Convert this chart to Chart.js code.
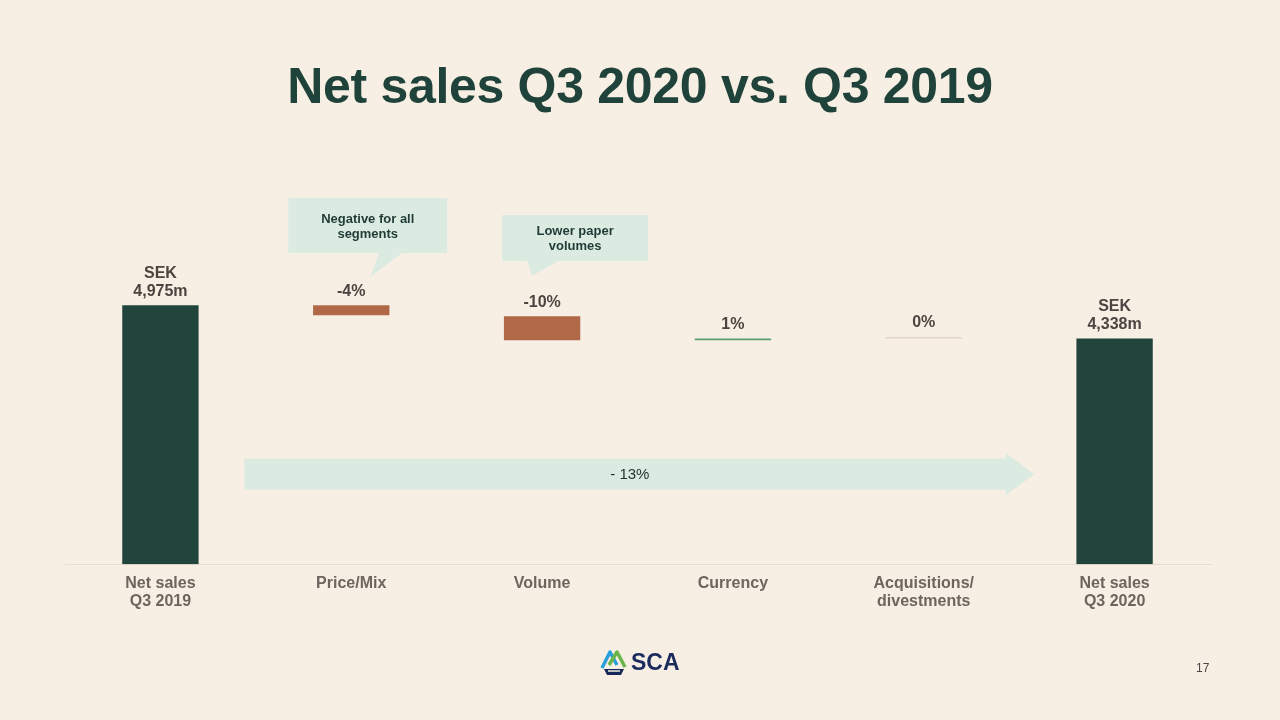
<!DOCTYPE html>
<html>
<head>
<meta charset="utf-8">
<script src="https://cdn.jsdelivr.net/npm/chart.js@4.4.1/dist/chart.umd.min.js"></script>
<style>
  html, body { margin: 0; padding: 0; }
  body { width: 1280px; height: 720px; background: #f7efe3; position: relative; overflow: hidden; font-family: 'Liberation Sans', Arial, sans-serif; }
  #title { position: absolute; top: 61px; left: 0; width: 1280px; text-align: center; font-size: 50px; line-height: 50px; font-weight: bold; color: #1f433b; margin: 0; letter-spacing: -0.3px; }
  #chartBox { position: absolute; left: 0; top: 0; width: 1280px; height: 720px; }
  #logo { position: absolute; left: 599px; top: 647px; height: 30px; display: flex; align-items: center; }
  #logo span { font-size: 23px; font-weight: bold; color: #1b2b5e; margin-left: 2px; }
  #page { position: absolute; left: 1196px; top: 661px; font-size: 12px; color: #4a4540; }
</style>
</head>
<body>
<h1 id="title">Net sales Q3 2020 vs. Q3 2019</h1>
<div id="chartBox"><canvas id="bridgeChart" width="1280" height="720"></canvas></div>
<div id="logo">
  <svg width="30" height="30" viewBox="0 0 30 30">
    <path d="M3 21 L11 5 L18 18" fill="none" stroke="#2a9fdb" stroke-width="3.5" stroke-linejoin="round"/>
    <path d="M10 18 L18 5 L26 20" fill="none" stroke="#6ab44b" stroke-width="3.5" stroke-linejoin="round"/>
    <path d="M5 22 L25 22 L22 28 L8 28 Z" fill="#15285a"/>
    <path d="M9 24 L21 24" stroke="#f7efe3" stroke-width="1.5"/>
  </svg>
  <span>SCA</span>
</div>
<div id="page">17</div>
<script>
const categories = [['Net sales', 'Q3 2019'], 'Price/Mix', 'Volume', 'Currency', ['Acquisitions/', 'divestments'], ['Net sales', 'Q3 2020']];
const barLow = [0, 4785, 4303, 4303, 4338, 0];
const barHigh = [4975, 4975, 4765, 4338, 4338, 4338];
const valueLabels = [['SEK', '4,975m'], ['-4%'], ['-10%'], ['1%'], ['0%'], ['SEK', '4,338m']];
const totalChange = '- 13%';
const callouts = [
  { index: 1, lines: ['Negative for all', 'segments'] },
  { index: 2, lines: ['Lower paper', 'volumes'] }
];

const barColors = ['#21443d', '#b06847', '#b06847', '#5a9f70', '#e2d8ca', '#21443d'];
const fontFamily = "'Liberation Sans', Arial, sans-serif";

document.addEventListener('DOMContentLoaded', () => {
  initBridgeChart();
});

// labels above each bar
const valueLabelPlugin = {
  id: 'valueLabels',
  afterDatasetsDraw(chart) {
    const ctx = chart.ctx;
    const meta = chart.getDatasetMeta(0);
    ctx.save();
    ctx.font = 'bold 16px ' + fontFamily;
    ctx.fillStyle = '#4b4541';
    ctx.textAlign = 'center';
    ctx.textBaseline = 'middle';
    meta.data.forEach((bar, i) => {
      const lines = valueLabels[i];
      const top = Math.min(bar.y, bar.base);
      lines.forEach((line, j) => {
        const y = top - 14 - (lines.length - 1 - j) * 18;
        ctx.fillText(line, bar.x, y);
      });
    });
    ctx.restore();
  }
};

// total change arrow and speech bubbles
const annotationPlugin = {
  id: 'bridgeNotes',
  beforeDatasetsDraw(chart) {
    const ctx = chart.ctx;
    const x = chart.scales.x;
    const y = chart.scales.y;
    const cy = y.getPixelForValue(1730);
    const x0 = x.getPixelForValue(0.44);
    const x1 = x.getPixelForValue(4.43);
    const tip = x.getPixelForValue(4.58);
    ctx.save();
    ctx.fillStyle = '#dcebe2';
    ctx.beginPath();
    ctx.moveTo(x0, cy - 15.5);
    ctx.lineTo(x1, cy - 15.5);
    ctx.lineTo(x1, cy - 21);
    ctx.lineTo(tip, cy);
    ctx.lineTo(x1, cy + 21);
    ctx.lineTo(x1, cy + 15.5);
    ctx.lineTo(x0, cy + 15.5);
    ctx.closePath();
    ctx.fill();
    ctx.font = "15px 'Liberation Sans Narrow', 'Liberation Sans', sans-serif";
    ctx.fillStyle = '#1f2f2b';
    ctx.textAlign = 'center';
    ctx.textBaseline = 'middle';
    ctx.fillText(totalChange, x.getPixelForValue(2.46), cy + 1);

    // bubbles
    const boxes = [
      { left: -63, right: 96, top: 198, bottom: 253, pA: 28, pB: 52, tipX: 19, tipY: 277 },
      { left: -40, right: 106, top: 215, bottom: 261, pA: -15, pB: 18, tipX: -10, tipY: 276 }
    ];
    callouts.forEach((c, k) => {
      const b = boxes[k];
      const cx = x.getPixelForValue(c.index);
      ctx.fillStyle = '#dcebe2';
      ctx.fillRect(cx + b.left, b.top, b.right - b.left, b.bottom - b.top);
      ctx.beginPath();
      ctx.moveTo(cx + b.pA, b.bottom - 1);
      ctx.lineTo(cx + b.pB, b.bottom - 1);
      ctx.lineTo(cx + b.tipX, b.tipY);
      ctx.closePath();
      ctx.fill();
      ctx.font = 'bold 13px ' + fontFamily;
      ctx.fillStyle = '#1f3b35';
      const mid = cx + (b.left + b.right) / 2;
      const firstY = b.top + 21 - (k === 1 ? 5 : 0);
      c.lines.forEach((line, j) => {
        ctx.fillText(line, mid, firstY + j * 15);
      });
    });
    ctx.restore();
  }
};

function initBridgeChart() {
  const ctx = document.getElementById('bridgeChart').getContext('2d');

  new Chart(ctx, {
    type: 'bar',
    data: {
      labels: categories,
      datasets: [
        {
          data: barLow.map((lo, i) => [lo, barHigh[i]]),
          backgroundColor: barColors,
          borderWidth: 0,
          barPercentage: 0.4,
          categoryPercentage: 1,
          minBarLength: 1.5
        }
      ]
    },
    options: {
      responsive: false,
      animation: false,
      layout: {
        padding: { left: 65, right: 70, top: 252, bottom: 107 }
      },
      plugins: {
        legend: { display: false },
        tooltip: { enabled: false }
      },
      scales: {
        y: {
          display: false,
          min: 0,
          max: 6000
        },
        x: {
          grid: { display: false },
          border: { color: '#e6dccd', width: 1 },
          ticks: {
            color: '#6d655e',
            padding: 2,
            maxRotation: 0,
            font: { family: fontFamily, size: 16, weight: 'bold', lineHeight: 1.15 }
          }
        }
      }
    },
    plugins: [annotationPlugin, valueLabelPlugin]
  });
}
</script>
</body>
</html>
